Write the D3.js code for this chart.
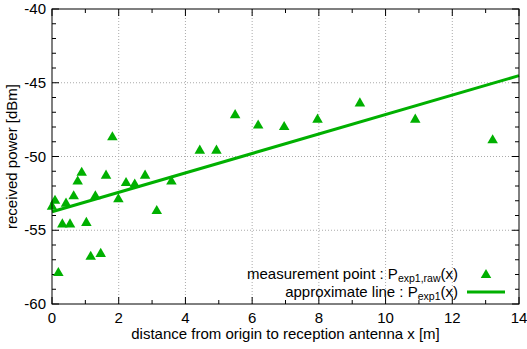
<!DOCTYPE html>
<html>
<head>
<meta charset="utf-8">
<script src="https://cdn.jsdelivr.net/npm/d3@7"></script>
<style>
  body { margin: 0; background: #fff; }
  text { font-family: "Liberation Sans", Arial, sans-serif; font-size: 15px; fill: #000; }
  .grid line { stroke: #aaa; stroke-dasharray: 1,2; }
</style>
</head>
<body>
<svg id="chart" width="527" height="349"></svg>
<script>
// measured points: distance [m] and received power [dBm]
const distance = [0.0, 0.09, 0.19, 0.31, 0.42, 0.54, 0.65, 0.77, 0.89, 1.03, 1.16, 1.30, 1.46, 1.62,
                  1.81, 1.99, 2.22, 2.48, 2.79, 3.14, 3.58, 4.43, 4.93, 5.49, 6.18, 6.96, 7.96, 9.23,
                  10.89, 13.21];
const power = [-53.4, -53.0, -57.9, -54.6, -53.2, -54.6, -52.7, -51.7, -51.1, -54.5, -56.8, -52.7, -56.6, -51.3,
               -48.7, -52.9, -51.8, -51.9, -51.3, -53.7, -51.7, -49.6, -49.6, -47.2, -47.9, -48.0, -47.5, -46.4,
               -47.5, -48.9];
// approximate line endpoints
const fitX = [0, 14];
const fitY = [-53.75, -44.52];

const xTicks = [0, 2, 4, 6, 8, 10, 12, 14];
const yTicks = [-60, -55, -50, -45, -40];

const green = "#00b000";
const margin = {left: 52, right: 8, top: 9, bottom: 45};
const width = 527, height = 349;

const svg = d3.select("#chart");
const x = d3.scaleLinear().domain([0, 14]).range([margin.left, width - margin.right]);
const y = d3.scaleLinear().domain([-60, -40]).range([height - margin.bottom, margin.top]);

const x0 = x.range()[0], x1 = x.range()[1];
const y0 = y.range()[0], y1 = y.range()[1];

// grid
const grid = svg.append("g").attr("class", "grid");
grid.selectAll(".gx").data(xTicks.slice(1, -1)).join("line")
    .attr("x1", d => x(d)).attr("x2", d => x(d)).attr("y1", y0).attr("y2", y1);
grid.selectAll(".gy").data(yTicks.slice(1, -1)).join("line")
    .attr("x1", x0).attr("x2", x1).attr("y1", d => y(d)).attr("y2", d => y(d));

// axes with inward ticks on all four sides
const minorX = d3.range(0, 14.01, 1);
const minorY = d3.range(-60, -39.99, 1);
const tk = svg.append("g").attr("stroke", "#000").attr("stroke-width", 1);
minorX.forEach(v => {
    const len = xTicks.includes(v) ? 7 : 4;
    tk.append("line").attr("x1", x(v)).attr("x2", x(v)).attr("y1", y0).attr("y2", y0 - len);
    tk.append("line").attr("x1", x(v)).attr("x2", x(v)).attr("y1", y1).attr("y2", y1 + len);
});
minorY.forEach(v => {
    const len = yTicks.includes(v) ? 7 : 4;
    tk.append("line").attr("x1", x0).attr("x2", x0 + len).attr("y1", y(v)).attr("y2", y(v));
    tk.append("line").attr("x1", x1).attr("x2", x1 - len).attr("y1", y(v)).attr("y2", y(v));
});

svg.selectAll(".xl").data(xTicks).join("text")
    .attr("x", d => x(d)).attr("y", y0 + 19).attr("text-anchor", "middle").text(d => d);
svg.selectAll(".yl").data(yTicks).join("text")
    .attr("x", x0 - 6).attr("y", d => y(d) + 5).attr("text-anchor", "end").text(d => d);

// axis titles
svg.append("text").attr("x", (x0 + x1) / 2).attr("y", 339).attr("text-anchor", "middle")
    .text("distance from origin to reception antenna x [m]");
svg.append("text").attr("transform", `translate(17,${(y0 + y1) / 2}) rotate(-90)`)
    .attr("text-anchor", "middle").attr("font-size", "14.5px").text("received power [dBm]");

// fitted line
svg.append("line")
    .attr("x1", x(fitX[0])).attr("y1", y(fitY[0]))
    .attr("x2", x(fitX[1])).attr("y2", y(fitY[1]))
    .attr("stroke", green).attr("stroke-width", 3);

// points
const tri = d3.symbol().type(d3.symbolTriangle).size(48);
svg.selectAll(".pt").data(distance).join("path")
    .attr("transform", (d, i) => `translate(${x(d)},${y(power[i])})`)
    .attr("d", tri).attr("fill", green);

// legend
const lg = svg.append("g");
const t1 = lg.append("text").attr("x", 458).attr("y", 279).attr("text-anchor", "end");
t1.append("tspan").text("measurement point : P");
t1.append("tspan").attr("dy", 3).attr("font-size", "10.5px").text("exp1,raw");
t1.append("tspan").attr("dy", -3).text("(x)");
const t2 = lg.append("text").attr("x", 458).attr("y", 297).attr("text-anchor", "end");
t2.append("tspan").text("approximate line : P");
t2.append("tspan").attr("dy", 3).attr("font-size", "10.5px").text("exp1");
t2.append("tspan").attr("dy", -3).text("(x)");
lg.append("path").attr("transform", "translate(486,275)").attr("d", tri).attr("fill", green);
lg.append("line").attr("x1", 467).attr("x2", 505).attr("y1", 292).attr("y2", 292)
    .attr("stroke", green).attr("stroke-width", 3);

// frame
svg.append("rect").attr("x", x0).attr("y", y1).attr("width", x1 - x0).attr("height", y0 - y1)
    .attr("fill", "none").attr("stroke", "#000");
</script>
</body>
</html>
